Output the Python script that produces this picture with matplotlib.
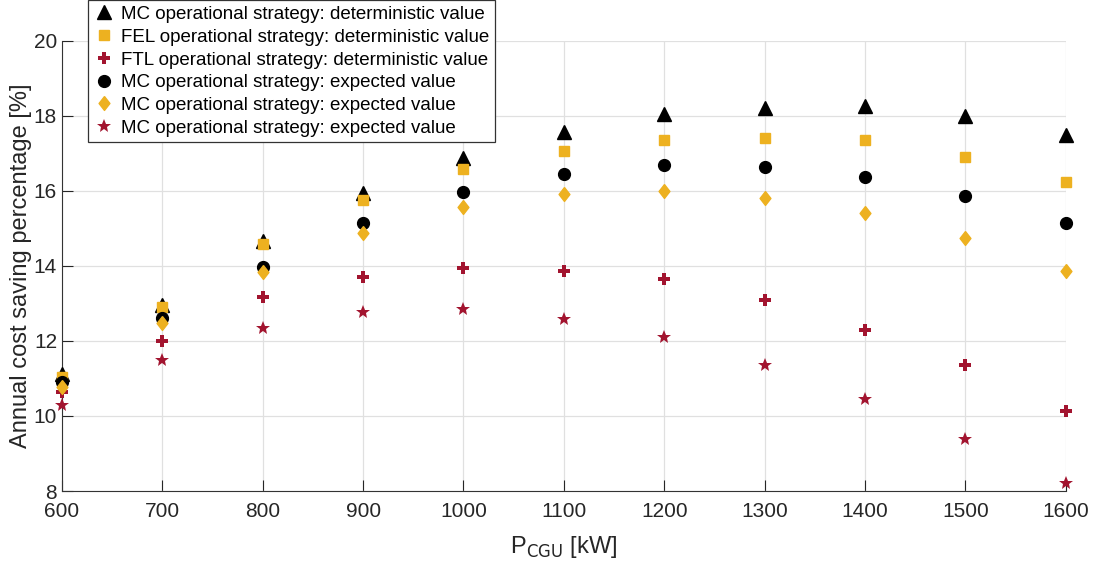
import matplotlib.pyplot as plt
import numpy as np

p_cgu = [600, 700, 800, 900, 1000, 1100, 1200, 1300, 1400, 1500, 1600]

mc_det = [11.12, 12.96, 14.67, 15.95, 16.87, 17.56, 18.05, 18.2, 18.27, 18.0, 17.49]
fel_det = [11.05, 12.9, 14.59, 15.77, 16.58, 17.05, 17.36, 17.42, 17.36, 16.91, 16.25]
ftl_det = [10.65, 12.0, 13.17, 13.71, 13.94, 13.87, 13.66, 13.09, 12.29, 11.36, 10.13]
mc_exp = [10.91, 12.6, 13.98, 15.14, 15.96, 16.45, 16.69, 16.65, 16.37, 15.87, 15.14]
fel_exp = [10.78, 12.49, 13.85, 14.87, 15.57, 15.92, 16.0, 15.82, 15.41, 14.75, 13.87]
ftl_exp = [10.29, 11.49, 12.34, 12.78, 12.85, 12.58, 12.1, 11.36, 10.45, 9.38, 8.22]

labels = ['MC operational strategy: deterministic value',
          'FEL operational strategy: deterministic value',
          'FTL operational strategy: deterministic value',
          'MC operational strategy: expected value',
          'MC operational strategy: expected value',
          'MC operational strategy: expected value']

yellow = '#EDB120'
red = '#A2142F'

plt.rcParams['font.family'] = ['Liberation Sans', 'DejaVu Sans']

fig = plt.figure(figsize=(10.97, 5.67), dpi=100)
ax = fig.add_axes([0.0565, 0.134, 0.915, 0.794])

# taller-than-wide diamond like MATLAB's
diamond = [(0, 1), (0.78, 0), (0, -1), (-0.78, 0), (0, 1)]

kw = dict(linestyle='none', clip_on=False, zorder=3)
ax.plot(p_cgu, mc_det, marker='^', color='black', markersize=9.5, label=labels[0], **kw)
ax.plot(p_cgu, fel_det, marker='s', color=yellow, markersize=7, label=labels[1], **kw)
ax.plot(p_cgu, ftl_det, marker='P', color=red, markersize=9, markeredgewidth=0, label=labels[2], **kw)
ax.plot(p_cgu, mc_exp, marker='o', color='black', markersize=8.5, label=labels[3], **kw)
ax.plot(p_cgu, fel_exp, marker=diamond, color=yellow, markersize=10, label=labels[4], **kw)
ax.plot(p_cgu, ftl_exp, marker='*', color=red, markersize=10, markeredgewidth=0, label=labels[5], **kw)

ax.set_xlim(600, 1600)
ax.set_ylim(8, 20)
ax.set_xticks(np.arange(600, 1601, 100))
ax.set_yticks(np.arange(8, 21, 2))
ax.grid(True, color='#e0e0e0', linewidth=0.9)
ax.set_axisbelow(True)

for s in ['top', 'right']:
    ax.spines[s].set_visible(False)
for s in ['left', 'bottom']:
    ax.spines[s].set_color('#333333')
ax.tick_params(direction='in', length=8, labelsize=15, colors='#262626')
ax.tick_params(axis='x', pad=8)

ax.set_xlabel(r'P$_{\mathrm{CGU}}$ [kW]', fontsize=17, color='#262626', labelpad=9)
ax.set_ylabel('Annual cost saving percentage [%]', fontsize=17, color='#262626', labelpad=1)

leg = ax.legend(loc='upper left', bbox_to_anchor=(0.026, 1.09), borderaxespad=0,
                fontsize=13.5, handletextpad=0.35, handlelength=1.1, labelspacing=0.3,
                borderpad=0.3, fancybox=False, framealpha=1)
leg.get_frame().set_edgecolor('#333333')
leg.get_frame().set_linewidth(0.9)

fig.savefig('out.png', dpi=100)
